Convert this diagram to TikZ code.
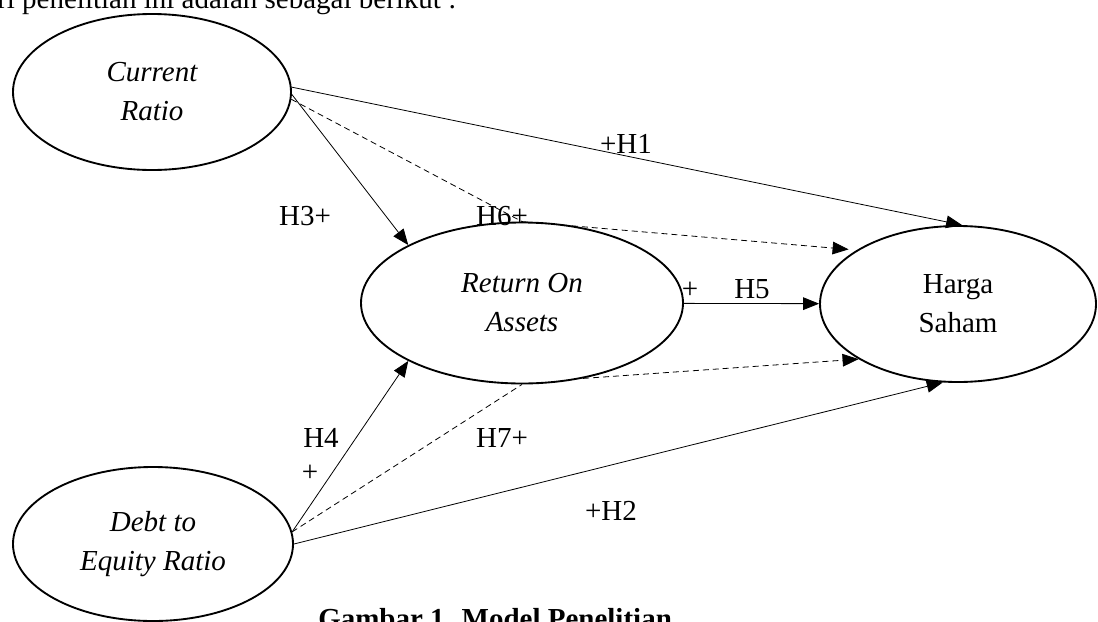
\documentclass[tikz,border=0pt]{standalone}
\usepackage{fontspec}
\setmainfont{Liberation Serif}
\usetikzlibrary{shapes.geometric,arrows.meta,positioning}
\def\ux{0.75pt}
\tikzset{
     var/.style={draw, ellipse, line width=1.4pt, inner sep=0pt, align=center},
     hyp/.style={anchor=base, inner sep=0pt},
     link/.style={->, line width=0.6pt},
     mlink/.style={line width=0.6pt, dash pattern=on 4.5pt off 3pt},
}
\tikzset{>={Triangle[length=12pt,width=9.5pt]}}

\begin{document}
\begin{tikzpicture}[x=\ux, y=-\ux, font=\fontsize{21.75pt}{29.25pt}\selectfont]
		\useasboundingbox (0,0) rectangle (1098,621);
		\clip (0,0) rectangle (1098,621);

		%% variables
		\node[var, minimum width=278*\ux, minimum height=156*\ux] (cr) at (152,92) {\itshape Current\\\itshape Ratio};
		\node[var, minimum width=280*\ux, minimum height=154*\ux] (der) at (153,544) {\itshape Debt to\\\itshape Equity Ratio};
		\node[var, minimum width=322*\ux, minimum height=161*\ux] (roa) at (522,303) {\itshape Return On\\\itshape Assets};
		\node[var, minimum width=276*\ux, minimum height=156*\ux] (hs) at (958,304) {Harga\\Saham};

		%% direct paths
		\draw[link] (cr.2) -- (hs.87);
		\draw[link] (cr.-1) -- (roa.153);
		\draw[link] (der.5) -- (roa.207);
		\draw[link] (der.east) -- (hs.-101);
		\draw[link] (roa) -- (hs);

		%% mediated paths
		\draw[mlink] (cr.-3) -- (roa.north);
		\draw[mlink, ->, shorten >=6pt] (roa.north) -- (hs.152);
		\draw[mlink] (der.5) -- (roa.south);
		\draw[mlink, ->] (roa.-51) -- (hs.209);

		%% hypotheses
		\node[hyp] (h1) at (626,153) {+H1};
		\node[hyp] (h3) at (305,225) {H3+};
		\node[hyp] (h6) at (502,225) {H6+};
		\node[hyp] (h5p) at (690,298) {+};
		\node[hyp] (h5) at (752,298) {H5};
		\node[hyp] (h4) at (321,447) {H4};
		\node[hyp] (h4p) at (310,481) {+};
		\node[hyp] (h7) at (502,447) {H7+};
		\node[hyp] (h2) at (611,520) {+H2};

		%% surrounding text
		\node[anchor=base west, inner sep=0pt] (intro) at (-3,8) {ri penelitian ini adalah sebagai berikut :};
		\node[anchor=base west, inner sep=0pt] (caption) at (318,628) {\bfseries Gambar 1. Model Penelitian};
\end{tikzpicture}
\end{document}
